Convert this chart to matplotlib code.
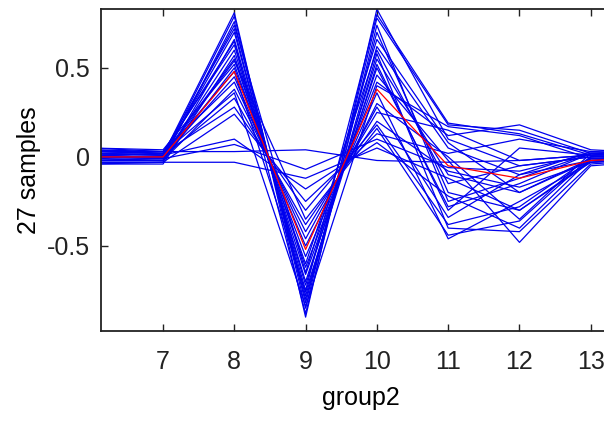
import numpy as np
import matplotlib
matplotlib.use('Agg')
import matplotlib.pyplot as plt

# positions along the x axis (lines run past both visible edges)
groups = [6, 7, 8, 9, 10, 11, 12, 13, 14]

# one row per sample (27 samples)
samples = [
    [0.02, 0.01, 0.81, -0.90, 0.83, 0.10, -0.05, 0.00, 0.01],
    [0.00, 0.00, 0.79, -0.85, 0.78, 0.18, 0.15, 0.02, 0.02],
    [-0.02, -0.02, 0.76, -0.82, 0.70, -0.20, -0.30, -0.02, 0.00],
    [0.03, 0.02, 0.72, -0.80, 0.62, 0.05, -0.10, 0.03, 0.02],
    [0.01, 0.00, 0.70, -0.78, 0.58, -0.40, -0.42, -0.04, -0.01],
    [-0.03, -0.03, 0.66, -0.75, 0.80, 0.19, 0.13, 0.01, 0.03],
    [0.04, 0.03, 0.63, -0.72, 0.55, -0.10, -0.20, -0.01, 0.02],
    [0.00, -0.01, 0.60, -0.70, 0.50, -0.28, -0.15, 0.02, 0.00],
    [-0.04, -0.04, 0.57, -0.66, 0.46, -0.02, -0.48, -0.05, -0.02],
    [0.02, 0.01, 0.55, -0.62, 0.42, 0.12, 0.18, 0.04, 0.02],
    [0.05, 0.04, 0.52, -0.60, 0.60, -0.15, -0.05, 0.00, 0.01],
    [-0.01, -0.02, 0.50, -0.56, 0.36, -0.46, -0.25, -0.03, 0.00],
    [0.01, 0.00, 0.45, -0.50, 0.30, 0.00, -0.35, 0.02, 0.03],
    [0.03, 0.03, 0.42, -0.46, 0.28, -0.34, -0.10, -0.02, 0.00],
    [-0.02, -0.02, 0.38, -0.42, 0.25, 0.15, -0.02, 0.01, 0.02],
    [0.00, 0.00, 0.33, -0.38, 0.20, -0.08, -0.17, -0.03, -0.01],
    [0.04, 0.02, 0.28, -0.30, 0.18, -0.38, -0.28, 0.00, 0.02],
    [-0.03, -0.03, 0.24, -0.25, 0.13, 0.02, 0.10, 0.03, 0.01],
    [0.02, 0.01, 0.10, -0.18, 0.08, -0.22, -0.40, -0.01, 0.00],
    [0.00, -0.01, 0.07, -0.07, 0.10, -0.06, -0.08, 0.02, 0.02],
    [0.05, 0.03, 0.03, 0.04, -0.02, -0.03, -0.02, 0.01, 0.01],
    [-0.04, -0.03, -0.03, -0.12, 0.05, -0.12, -0.30, -0.03, -0.01],
    [0.01, 0.02, 0.65, -0.88, 0.74, -0.25, -0.12, 0.02, 0.00],
    [-0.02, -0.01, 0.74, -0.65, 0.66, 0.08, -0.20, -0.02, 0.01],
    [0.02, 0.01, 0.48, -0.76, 0.52, -0.30, 0.05, 0.01, 0.02],
    [0.03, 0.02, 0.36, -0.84, 0.40, 0.17, 0.12, -0.01, 0.00],
    [-0.01, 0.00, 0.54, -0.35, 0.16, -0.44, -0.36, 0.00, 0.02],
]

# the red profile drawn over the samples
center = [0.00, 0.00, 0.48, -0.52, 0.38, -0.05, -0.12, -0.02, 0.00]

xticks = [7, 8, 9, 10, 11, 12, 13]
yticks = [-0.5, 0, 0.5]
ytick_labels = ['-0.5', '0', '0.5']

plt.rcParams['font.family'] = ['Liberation Sans', 'DejaVu Sans']

fig = plt.figure(figsize=(6.04, 4.24), dpi=100)
# axes run past the right edge of the picture, as in the reference
ax = fig.add_axes([101 / 604, 93 / 424, 519 / 604, 322 / 424])

for row in samples:
    ax.plot(groups, row, color='#0000ee', lw=0.9)
ax.plot(groups, center, color='#ff0000', lw=0.9)

ax.set_xlim(6.13, 13.41)
ax.set_ylim(-0.978, 0.831)
ax.set_xticks(xticks)
ax.set_yticks(yticks)
ax.set_yticklabels(ytick_labels)

ax.tick_params(direction='in', length=5, width=1, colors='#222222',
               labelsize=18, top=True, right=False)
ax.tick_params(axis='x', pad=14)
ax.tick_params(axis='y', pad=8)
for side in ['left', 'bottom', 'top']:
    ax.spines[side].set_linewidth(1.3)
    ax.spines[side].set_color('#222222')
ax.spines['right'].set_visible(False)

ax.set_xlabel('group2', fontsize=18, labelpad=8)
ax.set_ylabel('27 samples', fontsize=18, labelpad=4)

fig.savefig('out.png', dpi=100)
